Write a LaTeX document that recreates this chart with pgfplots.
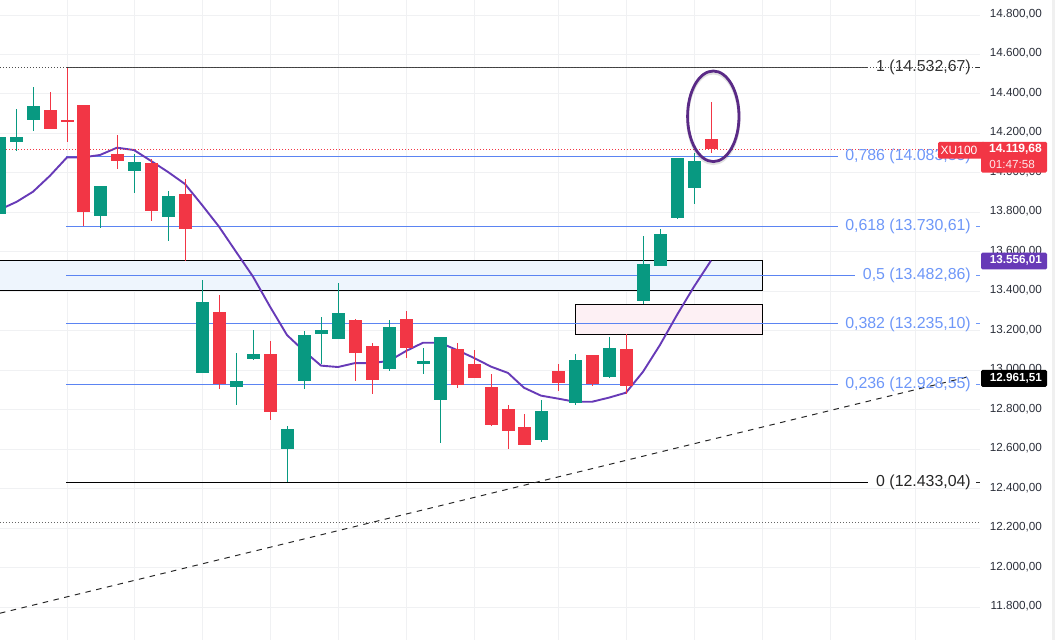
\documentclass[border=0pt]{standalone}
\usepackage{fontspec}
\setmainfont{Liberation Sans}
\usepackage{pgfplots}
\usepackage{pgfplotstable}
\pgfplotsset{compat=1.18}
\definecolor{tvgreen}{HTML}{089981}
\definecolor{tvred}{HTML}{F23645}
\definecolor{tvpurple}{HTML}{673AB7}
\definecolor{ringpurple}{HTML}{5A2A86}
\definecolor{fibline}{HTML}{5B84F2}
\definecolor{fibtext}{HTML}{6E97F8}
\definecolor{gridc}{HTML}{F0F1F3}
\definecolor{ticktxt}{HTML}{2A2E39}
\definecolor{boxblue}{HTML}{EEF5FD}
\definecolor{boxpink}{HTML}{FDF0F4}
\pgfplotstableread{
x o h l c
-0.7 13792 14182 13792 14182
16.3 14157 14324 14113 14182
33.3 14268 14435 14213 14339
100.3 13782 13934 13723 13934
134.3 14010 14096 13899 14056
168.3 13777 13909 13655 13883
202.3 12987 13458 12987 13346
236.3 12916 13088 12825 12946
253.3 13058 13205 13053 13083
287.3 12602 12718 12433 12703
304.3 12946 13200 12906 13179
321.3 13184 13270 13032 13205
338.3 13159 13443 13159 13291
389.3 13007 13255 12997 13220
423.3 13032 13113 12982 13048
440.3 12850 13169 12632 13169
541.3 12647 12850 12637 12794
575.3 12835 13083 12825 13053
609.3 12966 13169 12961 13113
643.3 13351 13681 13336 13539
660.3 13529 13716 13529 13691
677.3 13772 14076 13767 14076
694.3 13924 14101 13843 14061
}\greendata
\pgfplotstableread{
x o h l c
50.3 14319 14410 14223 14223
67.3 14266 14533 14158 14261
83.7 14344 14344 13731 13802
117.3 14096 14192 14020 14061
151.3 14051 14071 13757 13807
185.3 13893 13969 13554 13716
219.3 13296 13382 12906 12931
270.3 13083 13149 12749 12789
355.3 13255 13260 12946 13088
372.3 13124 13139 12880 12951
406.3 13260 13301 13063 13113
457.3 13108 13139 12911 12926
474.3 13032 13103 12961 12961
491.3 12916 12982 12718 12723
508.3 12804 12825 12602 12693
524.3 12713 12779 12622 12622
558.3 12997 13032 12896 12936
592.3 13078 13078 12921 12931
626.3 13108 13184 12880 12921
711.3 14172 14359 14101 14120
}\reddata
\pgfplotsset{
  chartbase/.style={
    anchor=south west, at={(0,0)},
    scale only axis, width=1055pt, height=640pt,
    xmin=0, xmax=1055, ymin=11634.3, ymax=14876.1,
    clip=true,
  },
  wick/.style={draw=none, mark=none, forget plot,
    error bars/y dir=both, error bars/y explicit,
    error bars/error bar style={line width=1.3pt, color=#1, solid}, error bars/error mark=none},
  body/.style={draw=none, mark=none, forget plot,
    error bars/y dir=both, error bars/y explicit,
    error bars/error bar style={line width=13pt, color=#1, solid}, error bars/error mark=none},
}
\newcommand{\fiblabel}[3]{%
  \node[anchor=east, inner sep=0pt, text=#3, font=\fontsize{15.9}{16}\selectfont] at (axis cs:971,#1) {#2};
  \draw[#3, line width=1pt] (axis cs:976,#1) -- (axis cs:980,#1);
}
\begin{document}
\begin{tikzpicture}
\useasboundingbox (0,0) rectangle (1055pt,640pt);
\begin{axis}[chartbase,
    axis line style={draw=none},
    major tick length=0pt,
    xtick={67,134,202,270,338,406,474,558,626,694,762,830,915},
    xticklabels={},
    ytick={11800,12000,12200,12400,12600,12800,13000,13200,13400,13600,13800,14000,14200,14400,14600,14800},
    xmajorgrids,
    grid style={gridc, line width=1pt},
    scaled y ticks=false,
    yticklabel pos=right,
    y tick label style={anchor=east, inner sep=0pt, xshift=-13pt, yshift=1pt,
      font=\fontsize{11.7}{12}\selectfont, text=ticktxt},
    /pgf/number format/fixed, /pgf/number format/fixed zerofill, /pgf/number format/precision=2,
    /pgf/number format/1000 sep={.}, /pgf/number format/dec sep={,}, /pgf/number format/assume math mode=true,
  ]
% horizontal grid stops at the price scale
\pgfplotsinvokeforeach{11800,12000,12200,12400,12600,12800,13000,13200,13400,13600,13800,14000,14200,14400,14600,14800}{
  \addplot[draw=gridc, line width=1pt, forget plot] coordinates {(0,#1)(980,#1)};
}
\addplot[draw=none, fill=black!6, forget plot] coordinates {(1052,11634.3)(1055,11634.3)(1055,14876.1)(1052,14876.1)} -- cycle;
% boxes
\addplot[draw=black, line width=1.1pt, fill=boxblue, forget plot] coordinates {(-5,13406)(762.7,13406)(762.7,13558)(-5,13558)} -- cycle;
\addplot[draw=black, line width=1.1pt, fill=boxpink, forget plot] coordinates {(575.3,13183)(762.7,13183)(762.7,13335)(575.3,13335)} -- cycle;
% fibonacci levels
\addplot[draw=black!75, line width=0.8pt, forget plot] coordinates {(67,14532.67)(868,14532.67)};
\addplot[draw=fibline, line width=1pt, forget plot] coordinates {(66,14083.35)(838,14083.35)};
\addplot[draw=fibline, line width=1pt, forget plot] coordinates {(66,13730.61)(838,13730.61)};
\addplot[draw=fibline, line width=1pt, forget plot] coordinates {(66,13482.86)(855,13482.86)};
\addplot[draw=fibline, line width=1pt, forget plot] coordinates {(66,13235.10)(838,13235.10)};
\addplot[draw=fibline, line width=1pt, forget plot] coordinates {(66,12928.55)(838,12928.55)};
\addplot[draw=black, line width=1pt, forget plot] coordinates {(66,12433.04)(868,12433.04)};
\addplot[draw=black!70, line width=1pt, dash pattern=on 1pt off 2pt, forget plot] coordinates {(0,14532.67)(980,14532.67)};
\addplot[draw=black!60, line width=1pt, dash pattern=on 1pt off 2pt, forget plot] coordinates {(0,12230.5)(979,12230.5)};
% trend line
\addplot[draw=black!85, line width=1pt, dash pattern=on 5.5pt off 5.5pt, forget plot] coordinates {(0,11770)(967,12966)};
% moving average
\addplot[draw=tvpurple, line width=1.9pt, line join=round, forget plot] coordinates {
(0,13812)(6,13829)(16.7,13854)(33,13905)(50,13986)(67,14079)(83,14079)(100,14091)(117,14128)(134,14116)
(151,14061)(168,14005)(185,13944)(202,13838)(219,13728)(236,13601)(253,13475)(270,13323)(287,13179)(304,13098)
(321,13024)(338,13017)(355,13037)(372,13037)(389,13048)(406,13098)(423,13140)(440,13140)(457,13103)(474,13063)
(491,13019)(508,12987)(524,12912)(541,12872)(558,12857)(575,12841)(592,12841)(609,12862)(626,12887)(643,12993)
(660,13129)(677,13281)(694,13424)(711,13556.01)};
% last price line
\addplot[draw=tvred, line width=1pt, dash pattern=on 1pt off 2pt, forget plot] coordinates {(0,14119.68)(980,14119.68)};
% fibonacci labels
\fiblabel{14532.67}{1 (14.532,67)}{black!80}
\fiblabel{14083.35}{0,786 (14.083,35)}{fibtext}
\fiblabel{13730.61}{0,618 (13.730,61)}{fibtext}
\fiblabel{13482.86}{0,5 (13.482,86)}{fibtext}
\fiblabel{13235.10}{0,382 (13.235,10)}{fibtext}
\fiblabel{12928.55}{0,236 (12.928,55)}{fibtext}
\fiblabel{12433.04}{0 (12.433,04)}{black!85}
% candles: wicks, then bodies
\addplot[wick=tvgreen] table[x=x, y expr={(\thisrow{h}+\thisrow{l})/2}, y error expr={(\thisrow{h}-\thisrow{l})/2}] {\greendata};
\addplot[wick=tvred] table[x=x, y expr={(\thisrow{h}+\thisrow{l})/2}, y error expr={(\thisrow{h}-\thisrow{l})/2}] {\reddata};
\addplot[body=tvgreen] table[x=x, y expr={(\thisrow{o}+\thisrow{c})/2}, y error expr={abs(\thisrow{c}-\thisrow{o})/2}] {\greendata};
\addplot[body=tvred] table[x=x, y expr={(\thisrow{o}+\thisrow{c})/2}, y error expr={abs(\thisrow{c}-\thisrow{o})/2}] {\reddata};
\end{axis}
\begin{axis}[chartbase, hide axis]
\addplot[draw=none, forget plot] coordinates {(0,12000)(1000,14000)};
% circled candle
\draw[black, opacity=0.12, line width=3pt] (axis cs:713.3,14277) ellipse [x radius=25.7pt, y radius=45.3pt];
\draw[ringpurple, line width=2.8pt] (axis cs:713.3,14287) ellipse [x radius=25.7pt, y radius=45.3pt];
% price badges
\fill[tvred, rounded corners=1.5pt] (axis cs:938,14158) rectangle (axis cs:985,14072);
\node[text=white, font=\fontsize{12}{12}\selectfont] at (axis cs:959,14116) {XU100};
\fill[tvred, rounded corners=1.5pt] (axis cs:981,14158) rectangle (axis cs:1047,14002);
\node[text=white, font=\fontsize{12}{12}\bfseries\selectfont, anchor=east, inner sep=0pt] at (axis cs:1042,14118) {14.119,68};
\node[text=white!88!tvred, font=\fontsize{11.7}{12}\selectfont, anchor=east, inner sep=0pt] at (axis cs:1035,14043) {01:47:58};
\fill[tvpurple, rounded corners=1.5pt] (axis cs:981,13597) rectangle (axis cs:1047,13511);
\node[text=white, font=\fontsize{11.7}{12}\bfseries\selectfont, anchor=east, inner sep=0pt] at (axis cs:1042,13556) {13.556,01};
\fill[black, rounded corners=1.5pt] (axis cs:981,13002) rectangle (axis cs:1047,12916);
\node[text=white, font=\fontsize{11.7}{12}\bfseries\selectfont, anchor=east, inner sep=0pt] at (axis cs:1042,12961) {12.961,51};
\end{axis}
\end{tikzpicture}
\end{document}
